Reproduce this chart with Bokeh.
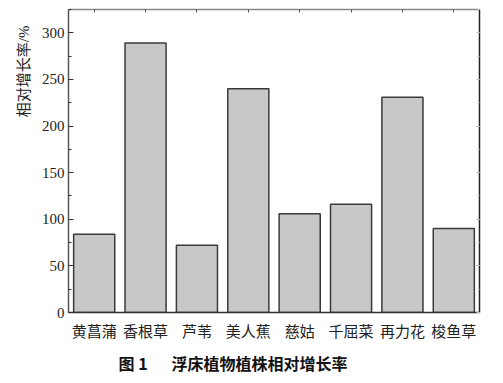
from bokeh.plotting import figure
from bokeh.models import (FactorRange, Range1d, LinearAxis, CategoricalAxis, SingleIntervalTicker,
                          Title, ColumnDataSource)
from bokeh.embed import file_html
from bokeh.resources import INLINE

plants = ["黄菖蒲", "香根草", "芦苇", "美人蕉", "慈姑", "千屈菜", "再力花", "梭鱼草"]
growth = [84, 289, 72, 240, 106, 116, 231, 90]
y_ticks_major = 50

SERIF = "'Liberation Serif', 'Noto Sans CJK SC'"

src = ColumnDataSource(dict(x=plants, y=growth))

p = figure(width=503, height=383, output_backend="svg", toolbar_location=None,
           x_range=FactorRange(factors=plants, range_padding=0),
           y_range=Range1d(0, 325),
           min_border_left=68, min_border_right=24, min_border_top=9, min_border_bottom=71)
p.outline_line_color = None
p.grid.visible = False
p.background_fill_color = "white"

p.vbar(x="x", top="y", width=0.8, source=src, fill_color="#c8c8c8",
       line_color="#3a3a3a", line_width=1.5)

# left axis
ya = p.yaxis[0]
ya.ticker = SingleIntervalTicker(interval=y_ticks_major, num_minor_ticks=2)
ya.major_tick_in = 5
ya.major_tick_out = 0
ya.minor_tick_in = 3
ya.minor_tick_out = 0
ya.axis_line_color = "#555555"
ya.axis_line_width = 1.5
ya.major_tick_line_color = "#333333"
ya.minor_tick_line_color = "#333333"
ya.major_label_text_font = SERIF
ya.major_label_text_font_size = "15px"
ya.major_label_text_color = "#222222"
ya.major_label_standoff = 4

# bottom axis
xa = p.xaxis[0]
xa.major_tick_line_color = None
xa.minor_tick_line_color = None
xa.axis_line_color = "#333333"
xa.axis_line_width = 1.5
xa.major_label_text_font = SERIF
xa.major_label_text_font_size = "15px"
xa.major_label_text_color = "#222222"
xa.major_label_standoff = 5

# top axis (ticks only)
ta = CategoricalAxis(major_tick_in=3, major_tick_out=0, axis_line_color="#888888",
                     axis_line_width=1.5, major_tick_line_color="#555555",
                     major_label_text_color=None, major_label_text_font_size="1px",
                     major_label_standoff=0)
p.add_layout(ta, "above")

# right axis (ticks only)
ra = LinearAxis(ticker=SingleIntervalTicker(interval=y_ticks_major, num_minor_ticks=2),
                major_tick_in=3, major_tick_out=0, minor_tick_in=2, minor_tick_out=0,
                axis_line_color="#222222", axis_line_width=1.5,
                major_tick_line_color="#aaaaaa", minor_tick_line_color="#cccccc",
                major_label_text_color=None, major_label_text_font_size="1px",
                major_label_standoff=0)
p.add_layout(ra, "right")

ylab = Title(text="相对增长率/%", align="right", offset=16, standoff=14, text_font=SERIF,
             text_font_size="15px", text_font_style="normal", text_color="#222222")
p.add_layout(ylab, "left")

cap = Title(text="图 1\u3000\u2002浮床植物植株相对增长率", align="left", offset=50, standoff=12,
            text_font="'Noto Sans CJK SC'", text_font_size="16px",
            text_font_style="bold", text_color="#111111")
p.add_layout(cap, "below")

open("out.html", "w").write(file_html(p, INLINE))
